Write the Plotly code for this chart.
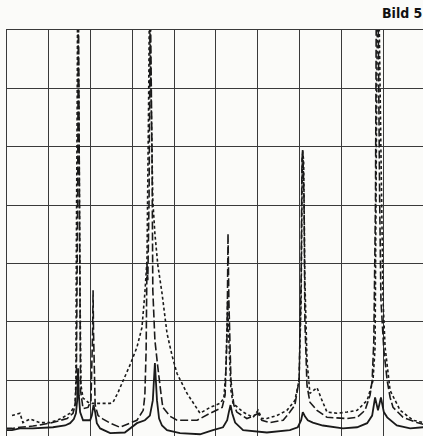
import plotly.graph_objects as go

# Data in chart divisions (x: 0..10 divisions, y: 0..7 divisions)
solid_x = [0.00, 0.12, 0.31, 0.62, 1.10, 1.39, 1.51, 1.60, 1.65, 1.68, 1.70, 1.72, 1.75, 1.82, 1.99,
           2.03, 2.07, 2.11, 2.15, 2.23, 2.47, 2.82, 3.11, 3.30, 3.42, 3.49, 3.54, 3.59, 3.64, 3.71,
           3.83, 4.14, 4.62, 4.93, 5.17, 5.27, 5.31, 5.35, 5.39, 5.46, 5.65, 6.22, 6.77, 6.96, 7.04,
           7.08, 7.13, 7.20, 7.32, 7.56, 8.04, 8.38, 8.62, 8.74, 8.81, 8.88, 8.95, 9.02, 9.10, 9.33,
           9.65, 9.96]
solid_y = [0.14, 0.14, 0.17, 0.17, 0.19, 0.22, 0.26, 0.33, 0.43, 0.65, 1.20, 0.74, 0.45, 0.31, 0.31,
           0.39, 0.57, 0.45, 0.26, 0.17, 0.09, 0.10, 0.26, 0.31, 0.39, 0.65, 1.29, 0.65, 0.34, 0.22,
           0.14, 0.09, 0.07, 0.14, 0.19, 0.31, 0.45, 0.57, 0.43, 0.27, 0.14, 0.10, 0.14, 0.19, 0.31,
           0.45, 0.38, 0.31, 0.27, 0.22, 0.17, 0.19, 0.26, 0.39, 0.70, 0.48, 0.70, 0.45, 0.36, 0.22,
           0.17, 0.19]

longdash_x = [0.00, 0.12, 0.31, 0.62, 1.03, 1.44, 1.58, 1.63, 1.66, 1.69, 1.71, 1.74, 1.76, 1.82, 1.94,
              2.01, 2.05, 2.06, 2.07, 2.11, 2.18, 2.30, 2.47, 2.70, 3.11, 3.26, 3.30, 3.33, 3.35, 3.37,
              3.40, 3.43, 3.47, 3.49, 3.54, 3.61, 3.69, 3.73, 3.90, 4.07, 4.55, 4.86, 5.15, 5.22, 5.27,
              5.29, 5.31, 5.36, 5.43, 5.50, 5.74, 5.89, 6.01, 6.10, 6.29, 6.61, 6.77, 6.89, 6.99, 7.04,
              7.06, 7.08, 7.11, 7.13, 7.18, 7.25, 7.42, 7.66, 8.14, 8.38, 8.57, 8.69, 8.74, 8.78, 8.82,
              8.84, 8.88, 8.92, 8.95, 9.02, 9.10, 9.17, 9.24, 9.48, 9.81, 9.96]
longdash_y = [0.17, 0.17, 0.19, 0.21, 0.26, 0.34, 0.43, 0.57, 0.99, 4.08, 7.60, 3.22, 0.82, 0.51, 0.53,
              0.65, 1.85, 2.54, 1.85, 0.57, 0.39, 0.33, 0.26, 0.19, 0.31, 0.48, 0.74, 1.51, 3.00, 2.71,
              4.08, 7.60, 4.94, 2.54, 1.68, 1.22, 0.74, 0.53, 0.38, 0.31, 0.31, 0.43, 0.53, 0.74, 1.85,
              3.51, 2.37, 0.99, 0.57, 0.45, 0.34, 0.38, 0.43, 0.31, 0.27, 0.31, 0.45, 0.57, 0.99, 2.71,
              4.77, 4.94, 4.08, 2.02, 0.91, 0.62, 0.48, 0.36, 0.34, 0.36, 0.48, 0.74, 0.99, 1.68, 4.08,
              7.60, 7.60, 4.08, 2.37, 1.51, 0.99, 0.70, 0.53, 0.36, 0.27, 0.24]

dotted_x = [0.12, 0.31, 0.38, 0.55, 0.79, 1.03, 1.27, 1.51, 1.63, 1.65, 1.66, 1.68, 1.69, 1.72, 1.75,
            1.77, 1.82, 1.94, 2.03, 2.23, 2.47, 2.54, 2.66, 2.78, 2.94, 3.11, 3.23, 3.30, 3.35, 3.39,
            3.41, 3.45, 3.49, 3.54, 3.61, 3.71, 3.83, 3.95, 4.07, 4.31, 4.62, 4.86, 5.10, 5.19, 5.24,
            5.28, 5.31, 5.36, 5.41, 5.65, 5.89, 6.01, 6.10, 6.22, 6.46, 6.70, 6.89, 6.99, 7.04, 7.07,
            7.10, 7.13, 7.18, 7.25, 7.42, 7.54, 7.66, 7.90, 8.14, 8.38, 8.62, 8.76, 8.81, 8.84, 8.87,
            8.90, 8.95, 9.00, 9.05, 9.17, 9.41, 9.72, 9.96]
dotted_y = [0.39, 0.43, 0.27, 0.33, 0.27, 0.27, 0.33, 0.43, 0.57, 0.99, 3.22, 5.79, 7.60, 5.79, 2.37,
            0.91, 0.69, 0.62, 0.60, 0.60, 0.60, 0.62, 0.79, 0.99, 1.25, 1.56, 1.90, 2.49, 3.05, 5.79,
            7.60, 5.79, 4.08, 3.51, 2.97, 2.49, 1.80, 1.42, 1.11, 0.77, 0.43, 0.53, 0.60, 0.69, 1.17,
            2.37, 1.68, 0.82, 0.60, 0.45, 0.36, 0.48, 0.34, 0.34, 0.39, 0.48, 0.65, 0.99, 2.37, 4.94,
            4.77, 2.71, 1.34, 0.77, 0.87, 0.65, 0.45, 0.43, 0.45, 0.48, 0.65, 0.99, 1.56, 4.94, 7.60,
            7.60, 4.94, 2.37, 1.56, 0.82, 0.48, 0.31, 0.27]

title_text = "Bild 5"

ink = "#1a1a1a"
paper = "#fbfbf9"

fig = go.Figure()
fig.add_trace(go.Scatter(x=dotted_x, y=dotted_y, mode="lines",
                         line=dict(color=ink, width=1.6, dash="3px,2.5px", simplify=False),
                         hoverinfo="skip", showlegend=False))
fig.add_trace(go.Scatter(x=longdash_x, y=longdash_y, mode="lines",
                         line=dict(color=ink, width=1.6, dash="8px,3px", simplify=False),
                         hoverinfo="skip", showlegend=False))
fig.add_trace(go.Scatter(x=solid_x, y=solid_y, mode="lines",
                         line=dict(color=ink, width=1.8, simplify=False),
                         hoverinfo="skip", showlegend=False))

fig.update_layout(
    width=423, height=436,
    margin=dict(l=7, r=0, t=30, b=0),
    paper_bgcolor=paper, plot_bgcolor=paper,
    xaxis=dict(range=[0, 9.957], dtick=1, tick0=0, showgrid=True, gridcolor="#3a3a3a", gridwidth=1,
               zeroline=False, showticklabels=False, ticks="", showline=True, side="top",
               linecolor="#3a3a3a", linewidth=1.2, fixedrange=True),
    yaxis=dict(range=[0.04, 7], dtick=1, tick0=0, showgrid=True, gridcolor="#3a3a3a", gridwidth=1,
               zeroline=False, showticklabels=False, ticks="", showline=True,
               linecolor="#3a3a3a", linewidth=1.2, fixedrange=True),
    annotations=[dict(text=title_text, xref="paper", yref="paper", x=1.0, y=1.0, yshift=17,
                      xanchor="right", yanchor="middle", showarrow=False, xshift=1,
                      font=dict(family="DejaVu Sans Condensed, Liberation Sans Narrow, sans-serif",
                                size=14, color="#111", weight="bold"))],
)

fig.write_html("out.html")
